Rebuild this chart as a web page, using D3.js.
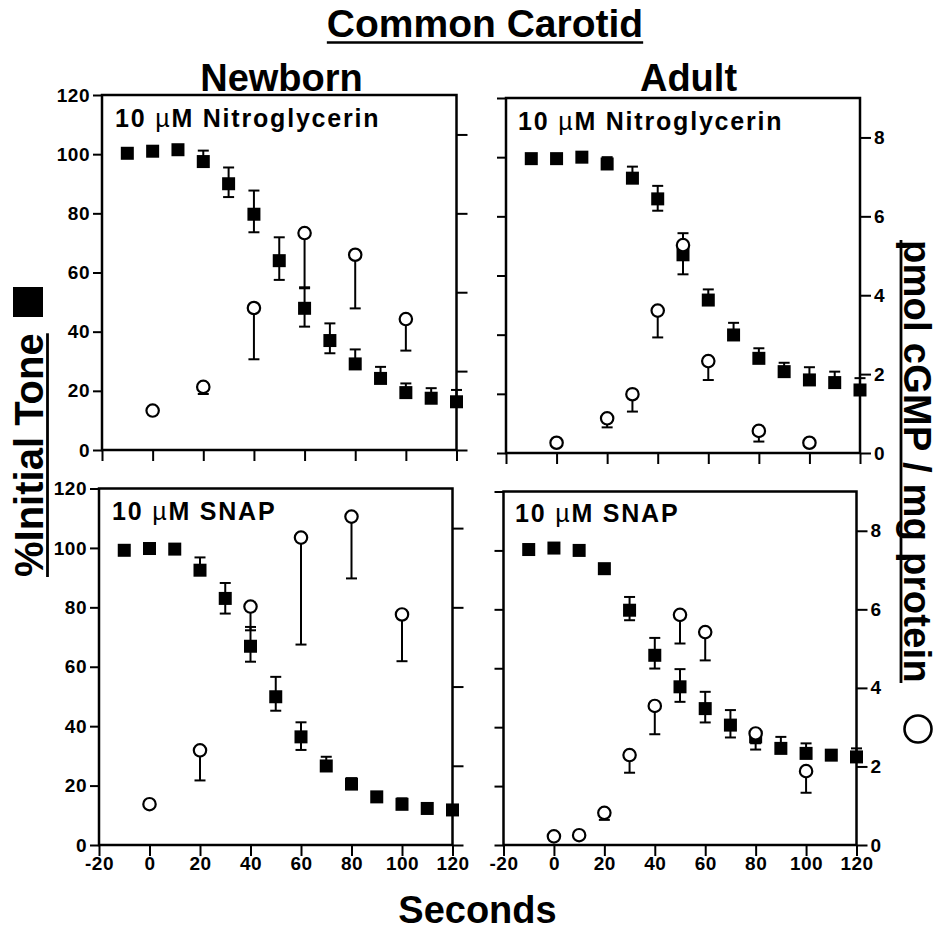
<!DOCTYPE html>
<html><head><meta charset="utf-8">
<script src="https://cdn.jsdelivr.net/npm/d3@7"></script>
<style>
body{margin:0;background:#fff}
svg{display:block}
text{font-family:"Liberation Sans",Arial,Helvetica,sans-serif;font-weight:bold;fill:#000}
</style>
</head><body>
<svg id="c" width="939" height="934"></svg>
<script>
// ---------- data ----------
const toneTimes = [-10,0,10,20,30,40,50,60,70,80,90,100,110,120];
const xTicks = [-20,0,20,40,60,80,100,120];
const toneTicks = [0,20,40,60,80,100,120];
const cgmpTicks = [0,2,4,6,8];

// Newborn, Nitroglycerin
const nbNtgTone   = [100.3,101,101.5,97.5,90,79.7,64,47.9,37,29.1,24.2,19.4,17.5,16.3];
const nbNtgToneHi = [0,0,0,3.7,5.5,8,7.9,7.1,5.8,4.9,3.9,3.1,3.4,4];
const nbNtgToneLo = [0,0,0,0,4.5,6.1,6.5,6.2,4.3,0,0,0,0,0];
const nbNtgCTimes = [0,20,40,60,80,100];
const nbNtgC      = [1.0,1.6,3.6,5.5,4.95,3.32];
const nbNtgCLo    = [0,0.18,1.3,1.4,1.36,0.8];

// Adult, Nitroglycerin
const adNtgTone   = [99.5,99.5,100,97.7,92.9,85.9,67,51.7,39.9,32,27.5,24.7,23.8,21.3];
const adNtgToneHi = [0,0,0,2.3,3.9,4.4,7.3,3.6,4.1,3.4,3,4.3,3.7,4];
const adNtgToneLo = [0,0,0,0,0,4,0,0,0,0,0,0,0,0];
const adNtgCTimes = [0,20,30,40,50,60,80,100];
const adNtgC      = [0.26,0.88,1.49,3.61,5.27,2.33,0.56,0.26];
const adNtgCLo    = [0,0.23,0.44,0.68,0.74,0.48,0.27,0];

// Newborn, SNAP
const nbSnapTone   = [99.2,99.8,99.6,92.5,83,66.9,49.9,36.4,26.6,20.5,16.2,13.7,12.3,11.8];
const nbSnapToneHi = [0,0,0,4.3,5.2,6.5,6.7,4.9,3.1,2,0,2,0,0];
const nbSnapToneLo = [0,0,0,0,5.1,5.2,4.7,4.4,0,0,0,0,0,0];
const nbSnapCTimes = [0,20,40,60,80,100];
const nbSnapC      = [1.03,2.39,6.02,7.76,8.29,5.82];
const nbSnapCLo    = [0,0.76,0.6,2.7,1.56,1.18];

// Adult, SNAP
const adSnapTone   = [100.3,100.8,100,93.8,79.7,64.4,53.7,46.3,40.7,36.7,32.8,31.1,30.5,29.9];
const adSnapToneHi = [0,0,0,0,4.5,5.9,6,5.7,5.1,0,3.9,3.4,0,2.9];
const adSnapToneLo = [0,0,0,0,3.4,4.5,5.1,4.7,4.2,4.3,0,0,0,0];
const adSnapCTimes = [0,10,20,30,40,50,60,80,100];
const adSnapC      = [0.22,0.25,0.82,2.29,3.54,5.86,5.42,2.84,1.88];
const adSnapCLo    = [0,0,0.18,0.45,0.72,0.73,0.72,0.25,0.55];

const drugLabels = ["Nitroglycerin","SNAP"];

// ---------- layout ----------
const svg = d3.select("#c");
const panels = [
  {col:0,row:0,x0:102,x1:456.5,yT:95,yB:450,lx:115,ly:127,drug:0,
   tone:nbNtgTone,hi:nbNtgToneHi,lo:nbNtgToneLo,ct:nbNtgCTimes,c:nbNtgC,clo:nbNtgCLo},
  {col:1,row:0,x0:506,x1:860,yT:98,yB:453,lx:518,ly:130,drug:0,
   tone:adNtgTone,hi:adNtgToneHi,lo:adNtgToneLo,ct:adNtgCTimes,c:adNtgC,clo:adNtgCLo},
  {col:0,row:1,x0:99,x1:452.5,yT:488.5,yB:845,lx:112,ly:520,drug:1,
   tone:nbSnapTone,hi:nbSnapToneHi,lo:nbSnapToneLo,ct:nbSnapCTimes,c:nbSnapC,clo:nbSnapCLo},
  {col:1,row:1,x0:503.5,x1:856.5,yT:491.5,yB:845,lx:515,ly:522,drug:1,
   tone:adSnapTone,hi:adSnapToneHi,lo:adSnapToneLo,ct:adSnapCTimes,c:adSnapC,clo:adSnapCLo}
];

const fmt = d => String(d);
function styleAxis(g){
  g.select(".domain").remove();
  g.selectAll(".tick line").attr("stroke","#000").attr("stroke-width",2);
  g.selectAll(".tick text").attr("font-size",19).attr("letter-spacing","0.5px")
   .attr("font-family",'"Liberation Sans",Arial,sans-serif').attr("font-weight","bold").attr("fill","#000");
}

panels.forEach(p=>{
  const x = d3.scaleLinear().domain([-20,120]).range([p.x0,p.x1]);
  const yL = d3.scaleLinear().domain([0,120]).range([p.yB,p.yT]);
  const yR = d3.scaleLinear().domain([0,9]).range([p.yB,p.yT]);
  const g = svg.append("g");

  g.append("g").attr("transform",`translate(0,${p.yB})`)
    .call(d3.axisBottom(x).tickValues(xTicks).tickSize(11).tickPadding(1)
      .tickFormat(p.row===1?fmt:()=>"" )).call(styleAxis);
  g.append("g").attr("transform",`translate(${p.x0},0)`)
    .call(d3.axisLeft(yL).tickValues(toneTicks).tickSize(9).tickPadding(3)
      .tickFormat(p.col===0?fmt:()=>"" )).call(styleAxis);
  g.append("g").attr("transform",`translate(${p.x1},0)`)
    .call(d3.axisRight(yR).tickValues(cgmpTicks).tickSize(11).tickPadding(3)
      .tickFormat(p.col===1?fmt:()=>"" )).call(styleAxis);

  g.append("rect").attr("x",p.x0).attr("y",p.yT).attr("width",p.x1-p.x0).attr("height",p.yB-p.yT)
    .attr("fill","none").attr("stroke","#000").attr("stroke-width",2.5);

  const lab = g.append("text").attr("x",p.lx).attr("y",p.ly).attr("font-size",25).attr("letter-spacing","1.8px");
  lab.append("tspan").text("10 ");
  lab.append("tspan").attr("font-weight","normal").text("\u00B5");
  lab.append("tspan").text("M " + drugLabels[p.drug]);

  const cap = 5.5;
  const toneData = toneTimes.map((t,i)=>({t,v:p.tone[i],hi:p.hi[i],lo:p.lo[i]}));
  const cData = p.ct.map((t,i)=>({t,v:p.c[i],lo:p.clo[i]}));
  const eb = g.append("g").attr("stroke","#000").attr("stroke-width",2).attr("fill","none");
  toneData.forEach(d=>{
    if(d.hi>0){
      eb.append("line").attr("x1",x(d.t)).attr("x2",x(d.t)).attr("y1",yL(d.v)).attr("y2",yL(d.v+d.hi));
      eb.append("line").attr("x1",x(d.t)-cap).attr("x2",x(d.t)+cap).attr("y1",yL(d.v+d.hi)).attr("y2",yL(d.v+d.hi));
    }
    if(d.lo>0){
      eb.append("line").attr("x1",x(d.t)).attr("x2",x(d.t)).attr("y1",yL(d.v)).attr("y2",yL(d.v-d.lo));
      eb.append("line").attr("x1",x(d.t)-cap).attr("x2",x(d.t)+cap).attr("y1",yL(d.v-d.lo)).attr("y2",yL(d.v-d.lo));
    }
  });
  cData.forEach(d=>{
    if(d.lo>0){
      eb.append("line").attr("x1",x(d.t)).attr("x2",x(d.t)).attr("y1",yR(d.v)).attr("y2",yR(d.v-d.lo));
      eb.append("line").attr("x1",x(d.t)-cap).attr("x2",x(d.t)+cap).attr("y1",yR(d.v-d.lo)).attr("y2",yR(d.v-d.lo));
    }
  });
  const s = 13;
  g.append("g").selectAll("rect").data(toneData).join("rect")
    .attr("x",d=>x(d.t)-s/2).attr("y",d=>yL(d.v)-s/2).attr("width",s).attr("height",s).attr("fill","#000");
  g.append("g").selectAll("circle").data(cData).join("circle")
    .attr("cx",d=>x(d.t)).attr("cy",d=>yR(d.v)).attr("r",6.2)
    .attr("fill","#fff").attr("stroke","#000").attr("stroke-width",2.2);
});

// ---------- titles ----------
function uText(sel, txt, x, y, size, anchor){
  return sel.append("text").attr("x",x).attr("y",y).attr("font-size",size).attr("text-anchor",anchor).text(txt);
}
const title = uText(svg,"Common Carotid",485,37,39,"middle");
{
  const w = title.node().getComputedTextLength();
  svg.append("line").attr("x1",485-w/2).attr("x2",485+w/2).attr("y1",42.5).attr("y2",42.5)
    .attr("stroke","#000").attr("stroke-width",2.6);
}
uText(svg,"Newborn",281.5,91,38,"middle");
uText(svg,"Adult",688.5,91,38,"middle");
uText(svg,"Seconds",477.5,923,38,"middle");

// left y title
{
  const g = svg.append("g").attr("transform","translate(43,577) rotate(-90)");
  const t = g.append("text").attr("x",0).attr("y",0).attr("font-size",40).text("%Initial Tone");
  const w = t.node().getComputedTextLength();
  g.append("line").attr("x1",0).attr("x2",w).attr("y1",4.5).attr("y2",4.5).attr("stroke","#000").attr("stroke-width",2.8);
  svg.append("rect").attr("x",13).attr("y",287).attr("width",30).attr("height",30).attr("fill","#000");
}
// right y title
{
  const g = svg.append("g").attr("transform","translate(904,240) rotate(90)");
  const t = g.append("text").attr("x",0).attr("y",0).attr("font-size",38).attr("letter-spacing","0.3px").text("pmol cGMP / mg protein");
  const w = t.node().getComputedTextLength();
  g.append("line").attr("x1",0).attr("x2",w).attr("y1",3).attr("y2",3).attr("stroke","#000").attr("stroke-width",2.8);
  svg.append("circle").attr("cx",918).attr("cy",729).attr("r",13.5).attr("fill","none").attr("stroke","#000").attr("stroke-width",2.6);
}
</script>
</body></html>
